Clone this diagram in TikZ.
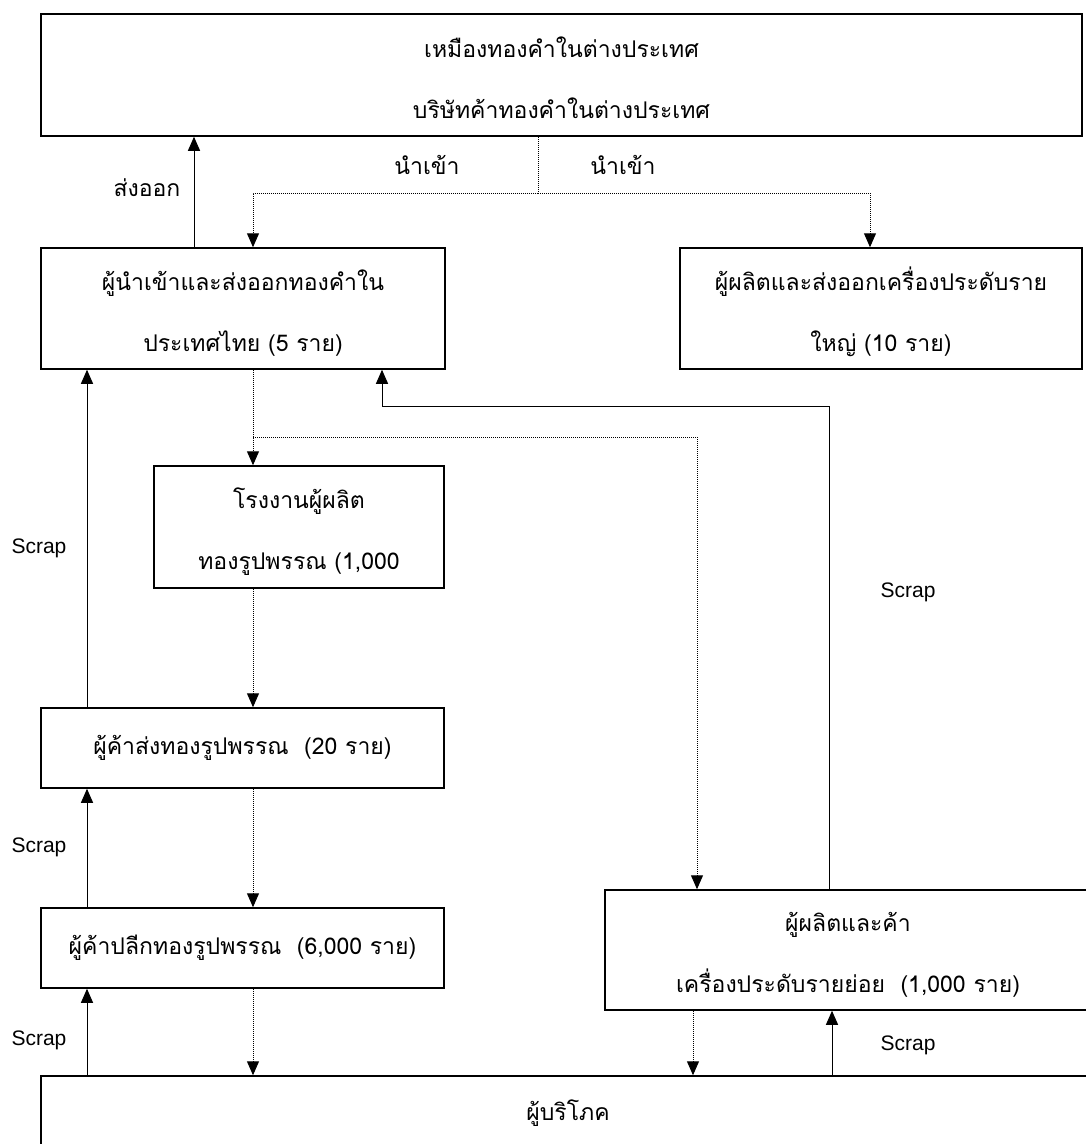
\documentclass[tikz,border=0pt]{standalone}
\usepackage{fontspec}
\setmainfont[Script=Thai]{Loma}
\newfontfamily\scrapfont{Liberation Sans}
\newcommand{\thaisize}{\fontsize{23}{61}\selectfont}
\usetikzlibrary{arrows.meta, calc}

\begin{document}
\begin{tikzpicture}[
    x=1pt, y=-1pt,
    box/.style={rectangle, draw=black, line width=1.5pt, align=center, inner sep=0pt, font=\thaisize},
    flow/.style={line width=1pt, -{Triangle[length=14pt,width=12pt]}},
    dots/.style={line width=1pt, dash pattern=on 1pt off 1pt},
    imp/.style={dots, -{Triangle[length=14pt,width=12pt]}},
    thailbl/.style={font=\thaisize, inner sep=0pt},
    scraplbl/.style={font=\scrapfont\fontsize{21}{24}\selectfont, inner sep=0pt}
]
\clip (0,0) rectangle (1086,1144);

% Boxes
\node[box, minimum width=1041, minimum height=122] (mine) at (561.5,75) {\rule{0pt}{27pt}เหมืองทองคำในต่างประเทศ\\บริษัทค้าทองคำในต่างประเทศ};
\node[box, minimum width=404, minimum height=121] (importer) at (243,308.5) {\rule{0pt}{30pt}ผู้นำเข้าและส่งออกทองคำใน\\ประเทศไทย (5 ราย)};
\node[box, minimum width=402, minimum height=121] (exporter) at (881,308.5) {\rule{0pt}{30pt}ผู้ผลิตและส่งออกเครื่องประดับราย\\ใหญ่ (10 ราย)};
\node[box, minimum width=290, minimum height=122] (factory) at (299,527) {\rule{0pt}{30pt}โรงงานผู้ผลิต\\ทองรูปพรรณ (1,000};
\node[box, minimum width=403, minimum height=80] (wholesale) at (242.5,748) {ผู้ค้าส่งทองรูปพรรณ \ (20 ราย)};
\node[box, minimum width=403, minimum height=80] (retail) at (242.5,948) {ผู้ค้าปลีกทองรูปพรรณ \ (6,000 ราย)};
\node[box, minimum width=486, minimum height=120] (smalljew) at (848,950) {\rule{0pt}{28pt}ผู้ผลิตและค้า\\เครื่องประดับรายย่อย \ (1,000 ราย)};
\node[box, minimum width=1054, minimum height=74] (consumer) at (568,1113) {ผู้บริโภค};

% Named turning points
\coordinate (split) at (538,193);
\coordinate (branch) at (253,437);
\coordinate (return) at (382,406);

% Import from abroad
\draw[dots] ([xshift=-23.5]mine.south) -- (split);
\draw[imp] (split) -| ([xshift=10]importer.north);
\draw[imp] (split) -| ([xshift=-11]exporter.north);
\node[thailbl] (imp1) at (427,165) {นำเข้า};
\node[thailbl] (imp2) at (623,165) {นำเข้า};

% Export
\draw[flow] ([xshift=-49]importer.north) -- ([xshift=-49]importer.north |- mine.south);
\node[thailbl] (export) at (147,188) {ส่งออก};

% Gold down the chain
\draw[imp] ([xshift=10]importer.south) -- (branch) -- (branch |- factory.north);
\draw[imp] (branch) -| ([xshift=-151]smalljew.north);
\draw[imp] ([xshift=-46]factory.south) -- ([xshift=-46]factory.south |- wholesale.north);
\draw[imp] ([xshift=10.5]wholesale.south) -- ([xshift=10.5]wholesale.south |- retail.north);
\draw[imp] ([xshift=10.5]retail.south) -- ([xshift=10.5]retail.south |- consumer.north);
\draw[imp] ([xshift=-155]smalljew.south) -- ([xshift=-155]smalljew.south |- consumer.north);

% Scrap back up
\draw[flow] ([xshift=-155.5]wholesale.north) -- ([xshift=-155.5]wholesale.north |- importer.south);
\draw[flow] ([xshift=-155.5]retail.north) -- ([xshift=-155.5]retail.north |- wholesale.south);
\draw[flow] ([xshift=-481]consumer.north) -- ([xshift=-481]consumer.north |- retail.south);
\draw[flow] ([xshift=-19]smalljew.north) |- (return) -- (return |- importer.south);
\draw[flow] ([xshift=264]consumer.north) -- ([xshift=264]consumer.north |- smalljew.south);
\node[scraplbl] (scrap1) at (39,548) {Scrap};
\node[scraplbl] (scrap2) at (39,847) {Scrap};
\node[scraplbl] (scrap3) at (39,1040) {Scrap};
\node[scraplbl] (scrap4) at (908,592) {Scrap};
\node[scraplbl] (scrap5) at (908,1045) {Scrap};

\end{tikzpicture}
\end{document}
